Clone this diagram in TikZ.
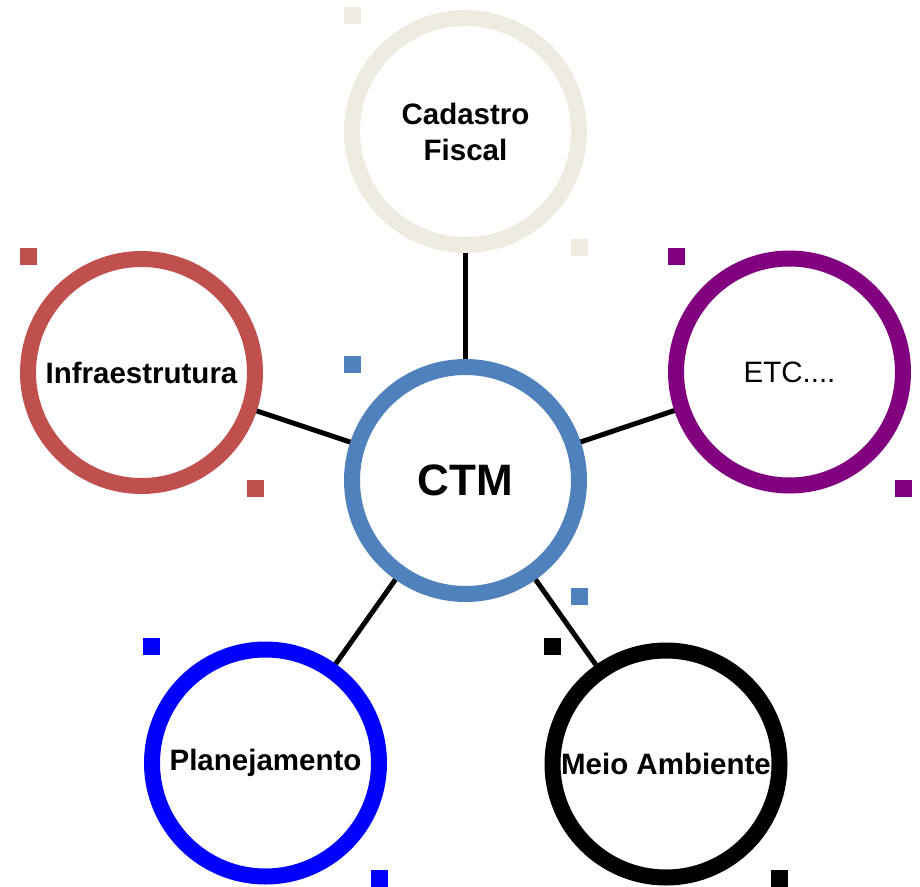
\documentclass[tikz,border=0pt]{standalone}
\usepackage{fontspec}
\setmainfont{Liberation Sans}
\definecolor{cadc}{HTML}{EEECE1}
\definecolor{ctmc}{HTML}{4F81BD}
\definecolor{infc}{HTML}{C0504D}
\definecolor{etcc}{HTML}{800080}
\definecolor{plac}{HTML}{0000FF}
\definecolor{meic}{HTML}{000000}
\begin{document}
\begin{tikzpicture}[x=1pt,y=-1pt,
  ring/.style={circle,draw=#1,line width=16pt,minimum size=227pt,inner sep=0pt,fill=white,text=black},
  lbl/.style={font=\bfseries\fontsize{29.5}{36}\selectfont,align=center},
  handle/.style={fill=#1},
  link/.style={draw=black,line width=5pt}]
\useasboundingbox (0,0) rectangle (920,886);
% nodes
\node[ring=cadc,lbl] (cad) at (465.5,131.5) {Cadastro\\Fiscal};
\node[ring=ctmc,font=\bfseries\fontsize{44}{50}\selectfont] (ctm) at (465.5,480.5) {CTM};
\node[ring=infc,lbl] (inf) at (141.5,372.5) {Infraestrutura};
\node[ring=etcc,font=\fontsize{29.5}{36}\selectfont] (etc) at (789.5,372) {ETC....};
\node[ring=plac,lbl] (pla) at (265.5,763) {Planejamento};
\node[ring=meic,lbl] (mei) at (666,764) {Meio Ambiente};
% connectors
\draw[link] (ctm) -- (cad);
\draw[link] (ctm) -- (inf);
\draw[link] (ctm) -- (etc);
\draw[link] (ctm) -- (pla);
\draw[link] (ctm) -- (mei);
% handles
\fill[handle=cadc] (344,7) rectangle ++(17,17);
\fill[handle=cadc] (588,256) rectangle ++(-17,-17);
\fill[handle=ctmc] (344,356) rectangle ++(17,17);
\fill[handle=ctmc] (588,605) rectangle ++(-17,-17);
\fill[handle=infc] (20,248) rectangle ++(17,17);
\fill[handle=infc] (264,497) rectangle ++(-17,-17);
\fill[handle=etcc] (668,248) rectangle ++(17,17);
\fill[handle=etcc] (912,497) rectangle ++(-17,-17);
\fill[handle=plac] (143,638) rectangle ++(17,17);
\fill[handle=plac] (388,887) rectangle ++(-17,-17);
\fill[handle=meic] (544,638) rectangle ++(17,17);
\fill[handle=meic] (788,887) rectangle ++(-17,-17);
\end{tikzpicture}
\end{document}
